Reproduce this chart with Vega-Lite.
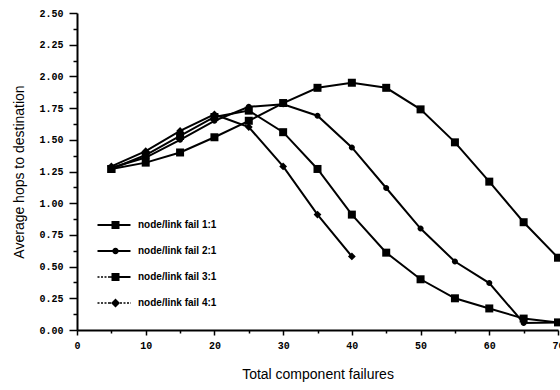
{
  "$schema": "https://vega.github.io/schema/vega-lite/v6.json",
  "width": 481,
  "height": 317,
  "autosize": {"type": "none"},
  "padding": {"left": 77, "top": 13, "right": 2, "bottom": 60},
  "background": "white",
  "config": {
    "view": {"stroke": null},
    "axis": {
      "grid": false,
      "domainColor": "black",
      "tickColor": "black",
      "labelColor": "black",
      "titleColor": "black",
      "labelFont": "Liberation Mono",
      "labelFontWeight": "bold",
      "labelFontSize": 10,
      "titleFont": "Liberation Sans",
      "titleFontSize": 14,
      "titleFontWeight": "normal",
      "domainWidth": 2,
      "tickWidth": 1.5,
      "ticks": true
    }
  },
  "data": {
    "values": [
      {"series": "1:1", "failures": 5, "hops": 1.27},
      {"series": "1:1", "failures": 10, "hops": 1.32},
      {"series": "1:1", "failures": 15, "hops": 1.40},
      {"series": "1:1", "failures": 20, "hops": 1.52},
      {"series": "1:1", "failures": 25, "hops": 1.65},
      {"series": "1:1", "failures": 30, "hops": 1.79},
      {"series": "1:1", "failures": 35, "hops": 1.91},
      {"series": "1:1", "failures": 40, "hops": 1.95},
      {"series": "1:1", "failures": 45, "hops": 1.91},
      {"series": "1:1", "failures": 50, "hops": 1.74},
      {"series": "1:1", "failures": 55, "hops": 1.48},
      {"series": "1:1", "failures": 60, "hops": 1.17},
      {"series": "1:1", "failures": 65, "hops": 0.85},
      {"series": "1:1", "failures": 70, "hops": 0.57},
      {"series": "2:1", "failures": 5, "hops": 1.28},
      {"series": "2:1", "failures": 10, "hops": 1.36},
      {"series": "2:1", "failures": 15, "hops": 1.50},
      {"series": "2:1", "failures": 20, "hops": 1.65},
      {"series": "2:1", "failures": 25, "hops": 1.76},
      {"series": "2:1", "failures": 30, "hops": 1.78},
      {"series": "2:1", "failures": 35, "hops": 1.69},
      {"series": "2:1", "failures": 40, "hops": 1.44},
      {"series": "2:1", "failures": 45, "hops": 1.12},
      {"series": "2:1", "failures": 50, "hops": 0.80},
      {"series": "2:1", "failures": 55, "hops": 0.54},
      {"series": "2:1", "failures": 60, "hops": 0.37},
      {"series": "2:1", "failures": 65, "hops": 0.055},
      {"series": "2:1", "failures": 70, "hops": 0.06},
      {"series": "3:1", "failures": 5, "hops": 1.27},
      {"series": "3:1", "failures": 10, "hops": 1.38},
      {"series": "3:1", "failures": 15, "hops": 1.53},
      {"series": "3:1", "failures": 20, "hops": 1.68},
      {"series": "3:1", "failures": 25, "hops": 1.73},
      {"series": "3:1", "failures": 30, "hops": 1.56},
      {"series": "3:1", "failures": 35, "hops": 1.27},
      {"series": "3:1", "failures": 40, "hops": 0.91},
      {"series": "3:1", "failures": 45, "hops": 0.61},
      {"series": "3:1", "failures": 50, "hops": 0.40},
      {"series": "3:1", "failures": 55, "hops": 0.25},
      {"series": "3:1", "failures": 60, "hops": 0.17},
      {"series": "3:1", "failures": 65, "hops": 0.09},
      {"series": "3:1", "failures": 70, "hops": 0.06},
      {"series": "4:1", "failures": 5, "hops": 1.29},
      {"series": "4:1", "failures": 10, "hops": 1.41},
      {"series": "4:1", "failures": 15, "hops": 1.57},
      {"series": "4:1", "failures": 20, "hops": 1.70},
      {"series": "4:1", "failures": 25, "hops": 1.60},
      {"series": "4:1", "failures": 30, "hops": 1.29},
      {"series": "4:1", "failures": 35, "hops": 0.91},
      {"series": "4:1", "failures": 40, "hops": 0.58}
    ]
  },
  "layer": [
    {
      "mark": {"type": "line", "color": "black", "strokeWidth": 2},
      "encoding": {
        "x": {
          "field": "failures", "type": "quantitative",
          "scale": {"domain": [0, 70], "nice": false, "zero": false},
          "axis": {"values": [0, 10, 20, 30, 40, 50, 60, 70], "tickSize": 5, "labelPadding": 5, "labelFlush": false, "title": "Total component failures", "titlePadding": 17, "orient": "bottom"}
        },
        "y": {
          "field": "hops", "type": "quantitative",
          "scale": {"domain": [0, 2.5], "nice": false},
          "axis": {"values": [0, 0.25, 0.5, 0.75, 1, 1.25, 1.5, 1.75, 2, 2.25, 2.5], "format": ".2f", "tickSize": 8, "labelPadding": 6, "labelFlush": false, "title": "Average hops to destination", "titlePadding": 12, "orient": "left"}
        },
        "detail": {"field": "series", "type": "nominal"}
      }
    },
    {
      "mark": {"type": "point", "filled": true, "color": "black", "opacity": 1, "size": 100},
      "encoding": {
        "x": {
          "field": "failures", "type": "quantitative",
          "scale": {"domain": [0, 70], "nice": false, "zero": false},
          "axis": {"values": [5, 15, 25, 35, 45, 55, 65], "labels": false, "domain": false, "ticks": true, "tickSize": 3, "title": null, "orient": "bottom"}
        },
        "y": {
          "field": "hops", "type": "quantitative",
          "scale": {"domain": [0, 2.5], "nice": false},
          "axis": {"values": [0.125, 0.375, 0.625, 0.875, 1.125, 1.375, 1.625, 1.875, 2.125, 2.375], "labels": false, "domain": false, "ticks": true, "tickSize": 4, "title": null, "orient": "left"}
        },
        "shape": {
          "field": "series", "type": "nominal",
          "scale": {"domain": ["1:1", "2:1", "3:1", "4:1"], "range": ["M-0.8,-0.8H0.8V0.8H-0.8Z", "M-0.6,0A0.6,0.6 0 1,0 0.6,0A0.6,0.6 0 1,0 -0.6,0Z", "M-0.8,-0.8H0.8V0.8H-0.8Z", "M0,-0.78L0.78,0L0,0.78L-0.78,0Z"]},
          "legend": null
        }
      }
    },
    {
      "transform": [{"filter": "false"}],
      "mark": {"type": "point", "filled": true, "color": "black", "opacity": 1, "size": 400},
      "encoding": {
        "x": {"field": "failures", "type": "quantitative", "axis": null},
        "y": {"field": "hops", "type": "quantitative", "axis": null},
        "shape": {
          "field": "series", "type": "nominal",
          "scale": {"domain": ["1:1", "2:1", "3:1", "4:1"], "range": [
            "M-1.65,-0.1H1.65V0.1H-1.65Z M-0.25,-0.4H0.55V0.4H-0.25Z",
            "M-1.65,-0.1H1.65V0.1H-1.65Z M-0.17,0A0.32,0.32 0 1,1 0.47,0A0.32,0.32 0 1,1 -0.17,0Z",
            "M-1.65,-0.08H-1.45V0.08H-1.65Z M-1.3,-0.08H-1.1V0.08H-1.3Z M-0.95,-0.08H-0.75V0.08H-0.95Z M-0.6,-0.08H-0.25V0.08H-0.6Z M-0.25,-0.1H1.65V0.1H-0.25Z M-0.25,-0.4H0.55V0.4H-0.25Z",
            "M-1.65,-0.08H-1.45V0.08H-1.65Z M-1.3,-0.08H-1.1V0.08H-1.3Z M-0.95,-0.08H-0.75V0.08H-0.95Z M-0.6,-0.08H-0.3V0.08H-0.6Z M0.15,-0.45L0.6,0L0.15,0.45L-0.3,0Z M0.6,-0.08H0.8V0.08H0.6Z M0.95,-0.08H1.15V0.08H0.95Z M1.3,-0.08H1.5V0.08H1.3Z M1.6,-0.08H1.65V0.08H1.6Z"
          ]},
          "legend": {
            "orient": "none", "legendX": 27, "legendY": 202, "title": null, "padding": 0,
            "rowPadding": 11, "symbolSize": 400, "labelOffset": 14,
            "symbolFillColor": "black", "symbolStrokeWidth": 0, "symbolOpacity": 1,
            "labelFont": "Liberation Sans", "labelFontWeight": "bold", "labelFontSize": 10, "labelColor": "black",
            "labelExpr": "'node/link fail ' + datum.label"
          }
        }
      }
    }
  ],
  "resolve": {"axis": {"x": "independent", "y": "independent"}, "scale": {"shape": "independent"}}
}
